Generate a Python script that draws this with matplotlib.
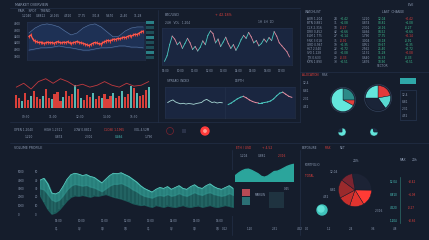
import matplotlib.pyplot as plt
import numpy as np

W, H = 429, 240
BG = '#151d2c'
PANEL = '#1a2640'
GRID = '#26334d'
TXT = '#8d9bb3'
RED = '#d9403a'
TEAL = '#4cc9c0'
CYAN = '#63e6dc'

# top-left price chart
band_hi = [71, 84, 92, 95, 92, 87, 76, 66, 71, 84, 92, 95, 87, 74, 61, 63, 76, 84, 87, 87]
band_lo = [26, 29, 32, 32, 34, 37, 34, 32, 29, 26, 26, 29, 32, 32, 34, 37, 37, 34, 34, 32]
price = [62, 66, 55, 50, 48, 46, 47, 45, 44, 46, 47, 45, 46, 44, 47, 48, 46, 45, 47, 46,
         48, 45, 44, 46, 47, 49, 46, 45, 44, 42, 40, 38, 41, 44, 46, 45, 43, 42, 45, 48,
         50, 52, 50, 53, 55, 54, 57, 56, 58, 60, 59, 62, 64, 63, 66, 68, 67, 71, 74, 76]

# volume bars + line
vol = [55, 40, 30, 62, 35, 48, 70, 45, 38, 52, 80, 42, 36, 58, 66, 30, 44, 72, 50, 60,
       95, 78, 40, 34, 55, 46, 62, 38, 50, 42, 58, 36, 48, 64, 40, 52, 70, 45, 58, 90,
       84, 62, 48, 56, 75, 88]
vol_kind = "rrtrrtrrrt" "rrtrrrtrrr" "trtrrrtrrt" "rrrtrrtrrt" "rtrrrt"
vol_line = [87, 103, 79, 110, 122, 103, 122, 110, 91, 99, 87, 95, 110, 95, 87, 103, 91, 95, 110]

# top-middle oscillating chart
osc = [10, 25, 55, 78, 70, 55, 62, 45, 58, 72, 60, 42, 50, 38, 48, 65, 55, 80, 92, 85,
       60, 70, 50, 62, 75, 58, 45, 55, 40, 52, 68, 80, 72, 88, 76, 60, 66, 52, 58, 70,
       62, 74, 66, 90, 78, 60, 52, 44, 36, 22]

# middle small charts
mid_left = [60, 66, 70, 62, 58, 55, 57, 54, 56, 55, 53, 56, 58, 60, 68, 72, 66, 60, 62, 58, 60, 59]
mid_right = [52, 58, 66, 74, 80, 84, 78, 70, 64, 60, 58, 58, 60, 62, 66, 74, 86, 96, 100, 92, 84, 80]

# bottom area chart
area_hi = [78, 82, 70, 50, 48, 52, 65, 80, 90, 93, 91, 88, 90, 86, 84, 78, 72, 80, 88, 93,
           92, 94, 90, 86, 80, 74, 66, 60, 56, 52, 58, 62, 60, 64, 58, 62, 66, 60, 58, 64,
           68, 62, 60, 66, 70, 64, 60, 58, 62, 66, 60]
area_mid = [60, 58, 48, 36, 32, 36, 46, 58, 66, 70, 68, 66, 68, 64, 62, 58, 54, 60, 66, 70,
            70, 72, 68, 64, 58, 54, 48, 44, 42, 40, 44, 46, 44, 48, 44, 46, 50, 46, 44, 48,
            52, 48, 46, 50, 52, 48, 46, 44, 46, 50, 46]
area_lo = [45, 30, 15, 5, 8, 15, 25, 35, 42, 45, 44, 46, 44, 42, 45, 44, 46, 48, 45, 42,
           40, 38, 35, 32, 28, 26, 24, 25, 22, 20, 24, 22, 20, 23, 21, 20, 22, 24, 21, 20,
           22, 23, 20, 22, 24, 21, 20, 22, 24, 22, 20]
area_small = [35, 50, 62, 70, 72, 65, 55, 45, 30, 25, 32, 45, 58, 60, 68, 78, 88, 95, 100]

# pies
pie_a = [25, 8, 67]
pie_a_col = ['#2b8a88', '#e0403c', CYAN]
pie_b = [22, 18, 35, 25]
pie_b_col = ['#e23b3b', '#58d8d0', '#1a2438', CYAN]
pie_red = [28, 16, 14, 12, 18, 12]
pie_red_col = ['#1c2335', '#ff3b35', '#e0342f', '#c62f2c', '#9a2a2c', '#7a2430']

# table
tbl_names = ['AXR 1.204', 'BTN 0.881', 'CLX 2.316', 'DRV 0.452', 'ELM 1.775', 'FNX 3.018',
             'GRD 0.967', 'HLT 2.540', 'IVO 1.128', 'JTK 0.633', 'KPN 1.890']
tbl_a = ['24', '31', '18', '42', '27', '35', '19', '22', '40', '29', '33']
tbl_b = ['+0.42', '+1.08', '-0.27', '+0.66', '+0.14', '-0.91', '+0.35', '+0.72', '+0.08', '-0.33', '+0.51']
tbl_c = ['1.220', '0.874', '2.301', '0.466', '1.790', '3.004', '0.951', '2.562', '1.131', '0.640', '1.876']
tbl_d = ['12.04', '08.81', '23.16', '04.52', '17.75', '30.18', '09.67', '25.40', '11.28', '06.33', '18.90']

axis_x = ['09:00', '10:00', '11:00', '12:00', '13:00', '14:00', '15:00', '16:00']
axis_y = ['5000', '4000', '3000', '2000', '1000', '0']


fig = plt.figure(figsize=(W / 100, H / 100), dpi=100, facecolor=BG)


def box(x, y, w, h, **kw):
    ax = fig.add_axes([x / W, 1 - (y + h) / H, w / W, h / H], **kw)
    ax.set_facecolor(PANEL)
    ax.set_xticks([])
    ax.set_yticks([])
    for s in ax.spines.values():
        s.set_color(GRID)
        s.set_linewidth(0.4)
    return ax


def txt(x, y, s, c=TXT, size=2.6, **kw):
    fig.text(x / W, 1 - y / H, s, color=c, fontsize=size, va='center', **kw)


def pie_at(cx, cy, r, vals, cols, start=90, ring=False):
    ax = fig.add_axes([(cx - r) / W, 1 - (cy + r) / H, 2 * r / W, 2 * r / H])
    ax.pie(vals, colors=cols, startangle=start, counterclock=False,
           wedgeprops=dict(linewidth=0.3, edgecolor=BG))
    if ring:
        ax.add_patch(plt.Circle((0, 0), 1.08, fill=False, lw=0.4, ec='#3a4a66'))
    ax.set_xlim(-1.12, 1.12)
    ax.set_ylim(-1.12, 1.12)
    ax.set_aspect('equal')
    ax.axis('off')
    return ax


# section lines
bg = fig.add_axes([0, 0, 1, 1])
bg.set_xlim(0, W)
bg.set_ylim(H, 0)
bg.axis('off')
bg.set_zorder(-5)
bg.patch.set_visible(False)
for xs, ys in [([10, 300], [8, 8]), ([158, 158], [10, 122]), ([300, 300], [10, 122]),
               ([10, 300], [122, 122]), ([300, 429], [72, 72]), ([10, 429], [143, 143]),
               ([232, 232], [150, 235]), ([300, 300], [150, 235])]:
    bg.plot(xs, ys, color=GRID, lw=0.4)

# ---- top-left price chart
ax = box(27, 22, 118, 38)
xb = np.linspace(0, len(price) - 1, len(band_hi))
ax.fill_between(xb, band_lo, band_hi, color='#1f3358', alpha=0.9)
ax.plot(xb, band_hi, color='#5c7aa8', lw=0.4)
ax.plot(xb, band_lo, color='#5c7aa8', lw=0.4)
xp = np.arange(len(price))
ax.vlines(xp, np.array(price) - 4, np.array(price) + 4, color='#e0443c', lw=0.8)
ax.plot(xp, price, color='#ff5a4e', lw=0.9)
ax.set_xlim(-1, len(price))
ax.set_ylim(0, 100)
ax.grid(color=GRID, lw=0.3)
txt(15, 5, 'MARKET OVERVIEW', size=2.4)
txt(18, 11, 'PAIR    SPOT    TREND', size=2.2)
for i, v in enumerate(['1.2040', '0.8812', '23.165', '4.520', '17.75', '301.8', '9.670', '25.40', '11.28']):
    txt(22 + i * 14, 16, v, size=2.1)
for i, v in enumerate(['4800', '4600', '4400', '4200', '4000', '3800']):
    txt(14, 24 + i * 6.5, v, size=2.0)
for i in range(8):
    bg.add_patch(plt.Rectangle((146, 21 + i * 5), 8, 3, color='#1e4e58' if i % 3 else '#2a7f86', lw=0))

# ---- volume chart
ax = box(14, 72, 137, 36)
ax.set_facecolor(BG)
for s in ax.spines.values():
    s.set_visible(False)
cols = {'r': RED, 't': '#55b9b4'}
ax.bar(np.arange(len(vol)), vol, width=0.75, color=[cols[k] for k in vol_kind])
xl = np.linspace(0, len(vol) - 1, len(vol_line))
ax.plot(xl, vol_line, color='#c23a3f', lw=0.6)
ax.set_xlim(-0.8, len(vol) - 0.2)
ax.set_ylim(0, 150)
for i, v in enumerate(['09:30', '11:00', '12:30', '14:00', '15:30']):
    txt(22 + i * 27, 117, v, size=2.1)

# ---- top-middle oscillator
ax = box(162, 28, 130, 37)
xo = np.arange(len(osc))
for i in range(len(osc) - 1):
    c = TEAL if osc[i + 1] >= osc[i] else '#e38ca0'
    ax.plot(xo[i:i + 2], osc[i:i + 2], color=c, lw=0.6)
ax.set_xlim(-1, len(osc))
ax.set_ylim(0, 100)
txt(165, 15, 'BTC/USD', size=2.4)
txt(215, 15, '+ 42.18%', c='#e0403c', size=2.4)
txt(165, 23, '24H   VOL   1.204', size=2.1)
txt(258, 22, '1H  4H  1D', size=2.1)
for i, v in enumerate(axis_x + ['17:00']):
    txt(162 + i * 14.5, 71, v, size=2.0)

# ---- middle small charts
ax = box(165, 87, 60, 31)
ax.plot(mid_left, color='#a9d9d6', lw=0.6)
ax.set_ylim(0, 120)
ax.grid(color=GRID, lw=0.3)
ax = box(225, 87, 70, 31)
for i in range(len(mid_right) - 1):
    c = TEAL if mid_right[i + 1] >= mid_right[i] else '#e38ca0'
    ax.plot([i, i + 1], mid_right[i:i + 2], color=c, lw=0.7)
ax.set_ylim(0, 120)
ax.grid(color=GRID, lw=0.3)
txt(167, 81, 'SPREAD  INDEX', size=2.1)
txt(235, 81, 'DEPTH', size=2.1)

# ---- table
txt(305, 12, 'WATCHLIST', size=2.2)
txt(382, 12, 'LAST  CHANGE', size=2.2)
txt(408, 5, 'LIVE', size=2.2)
for i in range(len(tbl_names)):
    y = 19 + i * 4.3
    txt(307, y, tbl_names[i], size=2.1)
    txt(334, y, tbl_a[i], size=2.1)
    txt(340, y, tbl_b[i], c='#3fbf8f' if tbl_b[i][0] == '+' else '#e0403c', size=2.1)
    txt(362, y, tbl_c[i], size=2.1)
    txt(378, y, tbl_d[i], c='#3fbf8f', size=2.1)
    txt(405, y, tbl_b[i], c='#3fbf8f' if i % 4 else '#e0403c', size=2.1)

# ---- pies
txt(302, 75, 'ALLOCATION', c='#e0403c', size=2.1)
txt(322, 75, 'RISK', size=2.1)
txt(377, 66, 'SECTOR', size=2.1)
pie_at(343, 100, 13, pie_a, pie_a_col, ring=True)
pie_at(378, 98, 14, pie_b, pie_b_col, ring=True)
pie_at(342, 132, 4.5, [75, 25], [CYAN, '#1f2d45'])
pie_at(374, 132, 4.5, [70, 30], [CYAN, '#1f2d45'], start=0)
bg.add_patch(plt.Rectangle((400, 78), 16, 6, color='#2fa8a8', lw=0))
bg.add_patch(plt.Rectangle((400, 90), 16, 30, fill=False, ec='#2c3d5a', lw=0.4))
for i, v in enumerate(['12.4', '8.81', '2.31', '4.52']):
    txt(303, 83 + i * 8, v, size=2.1)
    txt(402, 95 + i * 7, v, size=2.1)

# ---- middle row indicators
for i, v in enumerate(['OPEN 1.2040', 'HIGH 1.2311', 'LOW 0.8812', 'CLOSE 1.1965', 'VOL 4.52M']):
    txt(14 + i * 30, 130, v, size=2.1, c='#e0403c' if i == 3 else TXT)
    txt(25 + i * 30, 137, tbl_c[i], size=2.1, c=TEAL if i == 3 else TXT)
bg.add_patch(plt.Circle((205, 131), 4, color='#ff3b3b'))
bg.add_patch(plt.Circle((205, 131), 1.2, color='#ff9a90'))
bg.add_patch(plt.Circle((170, 131), 3.5, fill=False, ec='#7a2430', lw=0.5))
bg.add_patch(plt.Rectangle((182, 129), 4, 4, color='#2a3248', lw=0))

# ---- bottom area chart
ax = box(40, 170, 193, 46)
ax.set_facecolor(BG)
xa = np.arange(len(area_hi))
ax.fill_between(xa, area_lo, area_hi, color='#1d5f5e', alpha=0.9)
ax.fill_between(xa, area_mid, area_hi, color='#2c8a85', alpha=0.8)
ax.vlines(xa, area_lo, area_hi, color='#4fb7ae', lw=0.3, alpha=0.6)
ax.plot(xa, area_hi, color='#5fcfc4', lw=0.5)
ax.set_xlim(0, len(area_hi) - 1)
ax.set_ylim(0, 100)
for s in ax.spines.values():
    s.set_visible(False)
txt(14, 148, 'VOLUME PROFILE', size=2.3)
for i, v in enumerate(axis_y):
    txt(18, 172 + i * 8.5, v, size=2.0)
    txt(35, 172 + i * 8.5, v[:2], size=1.9)
for i, v in enumerate(axis_x):
    txt(55 + i * 23, 221, v, size=2.0)
    txt(55 + i * 23, 228, 'Q' + str(i % 4 + 1), size=1.9)

# ---- bottom middle small area
ax = box(235, 163, 58, 18)
ax.set_facecolor(BG)
ax.fill_between(np.arange(len(area_small)), 0, area_small, color='#2ba59c')
ax.set_xlim(0, len(area_small) - 1)
ax.set_ylim(0, 105)
for s in ax.spines.values():
    s.set_visible(False)
txt(236, 148, 'ETH / USD', c='#e0403c', size=2.2)
txt(262, 148, '+ 4.52', c='#e0403c', size=2.2)
txt(240, 156, '1.204', size=2.1)
txt(258, 156, '0.881', size=2.1)
txt(278, 156, '2.316', c='#e0403c', size=2.1)
bg.add_patch(plt.Rectangle((242, 189), 8, 7, color='#b84a55', lw=0))
bg.add_patch(plt.Rectangle((242, 197), 8, 8, color='#2b6f74', lw=0))
bg.add_patch(plt.Rectangle((269, 192), 15, 16, color='#1f3340', lw=0))
txt(255, 195, 'MARGIN', size=2.0)
txt(284, 189, '0.45', size=2.0)
for i, v in enumerate(['0.12', '1.20', '2.31', '4.52']):
    txt(222 + i * 25, 229, v, size=2.0)

# ---- red pie + scale
txt(302, 148, 'EXPOSURE', size=2.1)
txt(325, 148, 'RISK', c='#e0403c', size=2.1)
txt(340, 148, 'NET', size=2.1)
txt(305, 165, 'PORTFOLIO', size=2.1)
txt(305, 176, 'TOTAL', c='#e0403c', size=2.1)
txt(353, 161, '24%', size=2.2)
txt(330, 172, '12.04', size=2.1)
txt(330, 190, '8.81', size=2.1)
txt(323, 197, '4.52', size=2.1)
txt(375, 211, '2.316', size=2.1)
pie_at(355, 190, 18.5, pie_red, pie_red_col, start=100)
bg.add_patch(plt.Circle((322, 210), 5, color='#3fc2ba'))
bg.add_patch(plt.Circle((321, 209), 3, color='#62e0d6'))
bg.plot([400, 400], [177, 223], color='#2c6f6a', lw=0.5)
for i, v in enumerate(['12.04', '8.810', '4.520', '1.204']):
    txt(390, 182 + i * 13, v, c=TEAL, size=2.0)
    txt(408, 182 + i * 13, tbl_b[i], c='#e0403c', size=2.0)
txt(400, 160, 'MAX', size=2.2)
txt(412, 160, '24h', size=2.2)
for i, v in enumerate(['0.0', '1.2', '2.4', '3.6', '4.8']):
    txt(305 + i * 22, 229, v, size=2.0)

fig.savefig('out.png', dpi=100, facecolor=BG)
